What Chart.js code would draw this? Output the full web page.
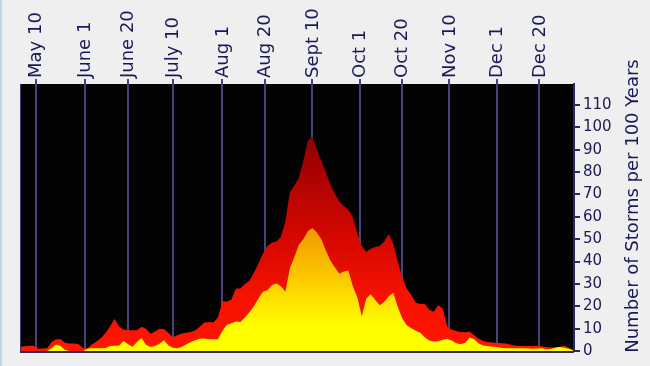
<!DOCTYPE html>
<html>
<head>
<meta charset="utf-8">
<script src="https://cdn.jsdelivr.net/npm/chart.js@4"></script>
<style>
html,body{margin:0;padding:0;background:#efefef;}
#wrap{width:650px;height:366px;position:relative;}
</style>
</head>
<body>
<div id="wrap"><canvas id="c" width="650" height="366"></canvas></div>
<script>
// Day of year for each sample
const days = [123,125,127,129,131,133,135,137,139,141,143,145,147,149,151,153,155,157,159,161,
163,165,167,169,171,173,175,177,179,181,183,185,187,189,191,193,195,197,199,201,
203,205,207,209,211,213,215,217,219,221,223,225,227,229,231,233,235,237,239,241,
243,245,247,249,251,253,255,257,259,261,263,265,267,269,271,273,275,277,279,281,
283,285,287,289,291,293,295,297,299,301,303,305,307,309,311,313,315,317,319,321,
323,325,327,329,331,333,335,337,339,341,343,345,347,349,351,353,355,357,359,361,
363,365,367,369];

// Tropical storms + hurricanes (per 100 years)
const totalStorms = [1.8,2.1,2.4,2.4,1.0,1.1,1.2,4.0,5.2,5.2,3.7,3.3,3.3,3.0,1.2,1.2,3.0,4.2,5.8,8.0,
11,14.3,11,9.6,9.3,9.3,9.3,10.8,10,7.7,8.7,10,9.8,8,6.2,7,7.8,8.2,8.5,9.3,
11,12.7,13,12.7,15,22.4,22,23,28,28,30,31.4,35,39,43.5,47,48.4,49,51,58,
71,74,77.5,85,94,95.8,90,85,80,74.5,70.3,66.8,64.8,63.2,59.9,52.6,47,44.3,45.7,46.5,
47,49,52.3,48,40,33,28,25,21.6,21,21,18.5,17.5,20.5,19,11,9.5,8.9,8.5,8.4,
8.6,7,5.5,4.5,4,3.8,3.7,3.5,3.3,2.9,2.5,2.2,2.2,2.2,2.2,2.4,2.1,1.8,1.6,1.6,
1.8,2.3,1.5,0.5];

// Hurricanes (per 100 years)
const hurricanes = [0,0,0,0,0,0,0,1.3,2.9,2.2,0.5,0,0,0,0,1.0,1.2,1.2,1.2,1.3,
2.2,2.3,2.4,4.5,3.0,1.9,4.0,5.8,2.8,1.8,2.2,3.2,4.8,2.5,1.5,1.2,1.9,3.0,4.0,4.8,
5.5,5.6,5.3,5.2,5.2,9,11.7,12.4,13.2,13,15,17.3,20,23.5,26.5,27.2,29.5,30.2,29,26.5,
37,42,47.5,50,53.5,55,53,50,45,40.5,37.5,34.5,35.5,36,29,24,15.5,23.5,25.4,22.8,
20.5,22,24.5,26,19.8,14.5,11.5,10.2,9,8.2,6.2,4.7,4.3,4.4,5,5.5,4.7,3.5,3.0,3.7,
6.0,5.2,3.4,2.5,2.1,2.0,1.8,1.5,1.2,1.2,1.2,1.2,1.2,1.1,1.0,1.1,1.2,0.8,0.9,1.5,
1.8,1.4,1.0,0.3];

const tickDays = [130,152,171,191,213,232,253,274,293,314,335,354];
const tickLabels = ['May 10','June 1','June 20','July 10','Aug 1','Aug 20','Sept 10','Oct 1','Oct 20','Nov 10','Dec 1','Dec 20'];
const yTicks = [0,10,20,30,40,50,60,70,80,90,100,110];
const yTitle = 'Number of Storms per 100 Years';

const NAVY = '#1a1a58';
const GRID = '#45457e';

function redFill(context){
  const chart = context.chart;
  const {ctx, chartArea, scales} = chart;
  if(!chartArea) return '#e00000';
  const y0 = scales.y.getPixelForValue(0), y1 = scales.y.getPixelForValue(100);
  const g = ctx.createLinearGradient(0, y1, 0, y0);
  g.addColorStop(0, '#8a0000');
  g.addColorStop(0.45, '#cf0600');
  g.addColorStop(0.75, '#f51200');
  g.addColorStop(1, '#ff1600');
  return g;
}
function yellowFill(context){
  const chart = context.chart;
  const {ctx, chartArea, scales} = chart;
  if(!chartArea) return '#ffff00';
  const y0 = scales.y.getPixelForValue(0), y1 = scales.y.getPixelForValue(55);
  const g = ctx.createLinearGradient(0, y1, 0, y0);
  g.addColorStop(0, '#ef9800');
  g.addColorStop(0.4, '#fcc800');
  g.addColorStop(0.8, '#ffff00');
  g.addColorStop(1, '#ffff00');
  return g;
}

const bgPlugin = {
  id:'bg',
  beforeDraw(chart){
    const {ctx, chartArea:a} = chart;
    ctx.save();
    ctx.fillStyle = '#efefef';
    ctx.fillRect(0,0,chart.width,chart.height);
    ctx.fillStyle = '#c4d6ea';
    ctx.fillRect(0,0,2,chart.height);
    ctx.fillStyle = '#030303';
    ctx.fillRect(a.left, a.top, a.right-a.left, a.bottom-a.top);
    ctx.restore();
  },
  afterDatasetsDraw(chart){
    const {ctx, chartArea:a} = chart;
    ctx.save();
    ctx.strokeStyle = '#2a2a62';
    ctx.lineWidth = 2;
    ctx.beginPath();
    ctx.moveTo(a.left, a.bottom+1);
    ctx.lineTo(a.right, a.bottom+1);
    ctx.stroke();
    ctx.lineWidth = 1;
    ctx.strokeStyle = '#3a3a6a';
    ctx.beginPath();
    ctx.moveTo(a.left+0.5, a.top);
    ctx.lineTo(a.left+0.5, a.bottom);
    ctx.stroke();
    ctx.restore();
  },
  afterDraw(chart){
    const {ctx, chartArea:a, scales} = chart;
    ctx.save();
    ctx.fillStyle = NAVY;
    // top date labels, rotated, anchored at each tick
    ctx.font = '18px "DejaVu Sans"';
    ctx.textAlign = 'left';
    ctx.textBaseline = 'middle';
    tickDays.forEach((d,i)=>{
      const x = scales.x.getPixelForValue(d);
      ctx.save();
      ctx.translate(x + 0.5, a.top - 6);
      ctx.rotate(-Math.PI/2);
      ctx.fillText(tickLabels[i], 0, 0);
      ctx.restore();
    });
    // right axis title
    ctx.translate(633, 206);
    ctx.rotate(-Math.PI/2);
    ctx.font = '18px "DejaVu Sans"';
    ctx.textAlign = 'center';
    ctx.textBaseline = 'middle';
    ctx.fillText(yTitle, 0, 0);
    ctx.restore();
  }
};

new Chart(document.getElementById('c'), {
  type:'line',
  data:{
    datasets:[
      {label:'Hurricanes', data: days.map((d,i)=>({x:d, y:hurricanes[i]})), fill:'origin',
       backgroundColor: yellowFill, borderWidth:0, pointRadius:0, tension:0},
      {label:'Tropical Storms', data: days.map((d,i)=>({x:d, y:totalStorms[i]})), fill:'origin',
       backgroundColor: redFill, borderWidth:0, pointRadius:0, tension:0}
    ]
  },
  options:{
    responsive:false, animation:false, events:[],
    layout:{padding:{left:20, right:0, top:0, bottom:15}},
    plugins:{legend:{display:false}, tooltip:{enabled:false}},
    scales:{
      x:{
        type:'linear', position:'top', min:122.95, max:369.4,
        afterBuildTicks: s => { s.ticks = tickDays.map(v=>({value:v})); },
        afterFit: s => { s.height = 84; },
        ticks:{display:false},
        grid:{color:GRID, lineWidth:2, tickLength:5, drawOnChartArea:true, drawTicks:true},
        border:{display:false}
      },
      y:{
        position:'right', min:0, max:119.4,
        afterBuildTicks: s => { s.ticks = yTicks.map(v=>({value:v})); },
        afterFit: s => { s.width = 76; },
        ticks:{color:NAVY, font:{family:'DejaVu Sans', size:15}, padding:3},
        grid:{drawOnChartArea:false, color:'#2a2a62', lineWidth:2, tickLength:6},
        border:{color:'#2a2a62', width:2}
      }
    }
  },
  plugins:[bgPlugin]
});
</script>
</body>
</html>
